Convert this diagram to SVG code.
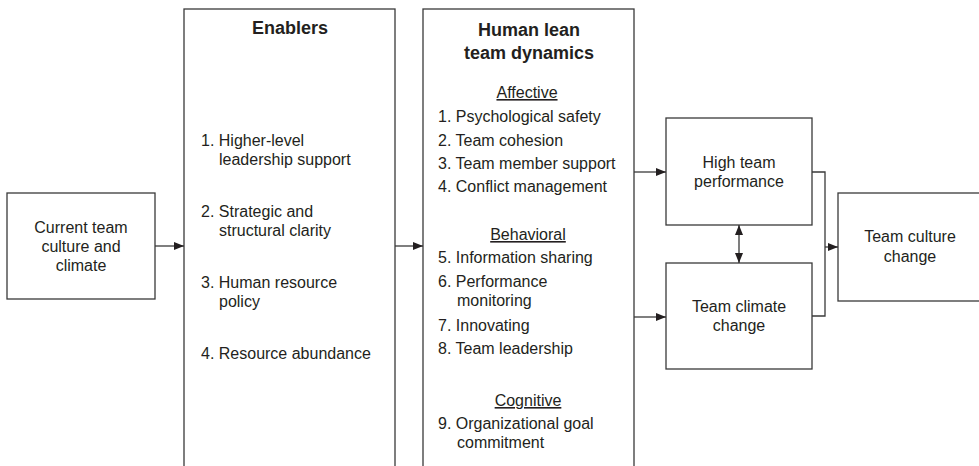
<svg xmlns="http://www.w3.org/2000/svg" width="979" height="466" viewBox="0 0 979 466">
<defs>
<style>
.box{fill:#fff;stroke:#3a3a3a;stroke-width:1.3}
.t{font-family:"Liberation Sans",Arial,sans-serif;font-size:16px;fill:#231f20}
.c{text-anchor:middle}
.b{font-weight:bold;font-size:18px}
.u{text-decoration:underline}
.ln{fill:none;stroke:#3a3a3a;stroke-width:1.3}
</style>
<marker id="ah" markerUnits="userSpaceOnUse" markerWidth="10" markerHeight="8" refX="10" refY="4" orient="auto-start-reverse">
<path d="M0,0 L10,4 L0,8 Z" fill="#231f20"/>
</marker>
</defs>
<rect width="979" height="466" fill="#fff"/>

<g id="current">
<rect class="box" x="7" y="193" width="148" height="106"/>
<text class="t c" x="81" y="233">Current team</text>
<text class="t c" x="81" y="252">culture and</text>
<text class="t c" x="81" y="271">climate</text>
</g>

<g id="enablers">
<rect class="box" x="184" y="9" width="211" height="470"/>
<text class="t c b" x="290" y="34">Enablers</text>
<text class="t" x="201" y="146">1. Higher-level</text>
<text class="t" x="219" y="165">leadership support</text>
<text class="t" x="201" y="217">2. Strategic and</text>
<text class="t" x="219" y="236">structural clarity</text>
<text class="t" x="201" y="288">3. Human resource</text>
<text class="t" x="219" y="307">policy</text>
<text class="t" x="201" y="359">4. Resource abundance</text>
</g>

<g id="dynamics">
<rect class="box" x="423" y="9" width="211" height="470"/>
<text class="t c b" x="529" y="36">Human lean</text>
<text class="t c b" x="529" y="59">team dynamics</text>
<text class="t c u" x="527" y="98">Affective</text>
<text class="t" x="438" y="122">1. Psychological safety</text>
<text class="t" x="438" y="146">2. Team cohesion</text>
<text class="t" x="438" y="169">3. Team member support</text>
<text class="t" x="438" y="192">4. Conflict management</text>
<text class="t c u" x="528" y="240">Behavioral</text>
<text class="t" x="438" y="263">5. Information sharing</text>
<text class="t" x="438" y="287">6. Performance</text>
<text class="t" x="457" y="306">monitoring</text>
<text class="t" x="438" y="331">7. Innovating</text>
<text class="t" x="438" y="354">8. Team leadership</text>
<text class="t c u" x="528" y="406">Cognitive</text>
<text class="t" x="438" y="429">9. Organizational goal</text>
<text class="t" x="457" y="448">commitment</text>
</g>

<g id="performance">
<rect class="box" x="666" y="118" width="146" height="107"/>
<text class="t c" x="739" y="168">High team</text>
<text class="t c" x="739" y="187">performance</text>
</g>

<g id="climate">
<rect class="box" x="666" y="263" width="146" height="106"/>
<text class="t c" x="739" y="312">Team climate</text>
<text class="t c" x="739" y="331">change</text>
</g>

<g id="culture">
<rect class="box" x="838" y="193" width="146" height="108"/>
<text class="t c" x="910" y="242">Team culture</text>
<text class="t c" x="910" y="262">change</text>
</g>

<g id="connectors">
<line class="ln" x1="155" y1="246" x2="184" y2="246" marker-end="url(#ah)"/>
<line class="ln" x1="395" y1="246" x2="423" y2="246" marker-end="url(#ah)"/>
<line class="ln" x1="634" y1="172" x2="666" y2="172" marker-end="url(#ah)"/>
<line class="ln" x1="634" y1="317" x2="666" y2="317" marker-end="url(#ah)"/>
<line class="ln" x1="739" y1="225" x2="739" y2="263" marker-start="url(#ah)" marker-end="url(#ah)"/>
<polyline class="ln" points="812,172 825,172 825,316 812,316"/>
<line class="ln" x1="825" y1="247" x2="838" y2="247" marker-end="url(#ah)"/>
</g>
</svg>
